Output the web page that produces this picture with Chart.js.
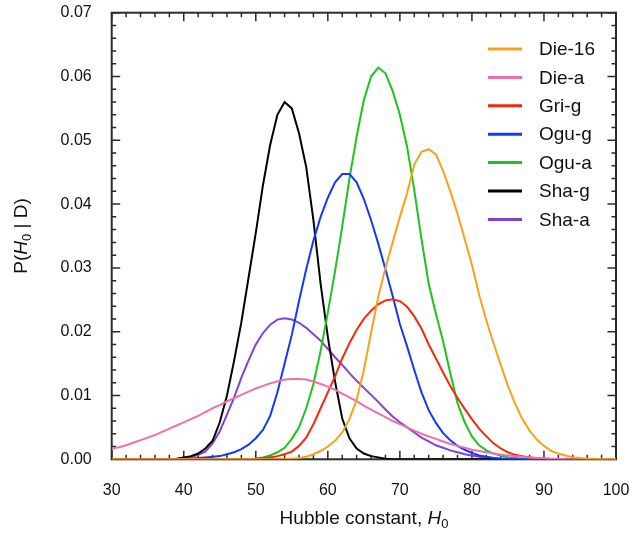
<!DOCTYPE html>
<html>
<head>
<meta charset="utf-8">
<script src="https://cdn.jsdelivr.net/npm/chart.js@4.4.1/dist/chart.umd.min.js"></script>
<style>
  html, body { margin: 0; padding: 0; background: #fff; }
</style>
</head>
<body>
<canvas id="hubble" width="632" height="534"></canvas>
<script>
// valores de H0 (eje x)
var H0 = [30, 31, 32, 33, 34, 35, 36, 37, 38, 39,
          40, 41, 42, 43, 44, 45, 46, 47, 48, 49,
          50, 51, 52, 53, 54, 55, 56, 57, 58, 59,
          60, 61, 62, 63, 64, 65, 66, 67, 68, 69,
          70, 71, 72, 73, 74, 75, 76, 77, 78, 79,
          80, 81, 82, 83, 84, 85, 86, 87, 88, 89,
          90, 91, 92, 93, 94, 95, 96, 97, 98, 99, 100];

// P(H0 | D) para cada serie
var die16 = [0, 0, 0, 0, 0, 0, 0, 0, 0, 0,
             0, 0, 0, 0, 0, 0, 0, 0, 0, 0,
             0, 0, 0, 0, 0, 0.0001, 0.0002, 0.0004, 0.0008, 0.0013,
             0.0020, 0.0029, 0.0042, 0.0063, 0.0093, 0.0140, 0.0198, 0.0255, 0.0300, 0.0340,
             0.0380, 0.0417, 0.0462, 0.0482, 0.0486, 0.0478, 0.0452, 0.0420, 0.0385, 0.0345,
             0.0305, 0.0258, 0.0218, 0.0182, 0.0148, 0.0115, 0.0087, 0.0063, 0.0045, 0.0031,
             0.0021, 0.0013, 0.0009, 0.0006, 0.0003, 0.0002, 0.0001, 0.0001, 0, 0, 0];
var diea = [0.0017, 0.0019, 0.0022, 0.0026, 0.0030, 0.0034, 0.0038, 0.0043, 0.0048, 0.0053,
            0.0058, 0.0063, 0.0068, 0.0074, 0.0080, 0.0085, 0.0091, 0.0096, 0.0101, 0.0106,
            0.0111, 0.0115, 0.0119, 0.0122, 0.0125, 0.0126, 0.0126, 0.0125, 0.0122, 0.0118,
            0.0114, 0.0109, 0.0103, 0.0097, 0.0091, 0.0084, 0.0078, 0.0072, 0.0066, 0.0060,
            0.0055, 0.0050, 0.0045, 0.0040, 0.0036, 0.0032, 0.0028, 0.0024, 0.0021, 0.0018,
            0.0015, 0.0013, 0.0011, 0.0009, 0.0007, 0.0006, 0.0005, 0.0004, 0.0003, 0.0002,
            0.0002, 0.0001, 0.0001, 0, 0, 0, 0, 0, 0, 0, 0];
var grig = [0, 0, 0, 0, 0, 0, 0, 0, 0, 0,
            0, 0, 0, 0, 0, 0, 0, 0, 0, 0,
            0.0001, 0.0002, 0.0003, 0.0005, 0.0008, 0.0012, 0.0021, 0.0034, 0.0055, 0.0080,
            0.0105, 0.0130, 0.0158, 0.0182, 0.0203, 0.0220, 0.0233, 0.0243, 0.0249, 0.0251,
            0.0248, 0.0239, 0.0224, 0.0205, 0.0180, 0.0158, 0.0136, 0.0115, 0.0096, 0.0079,
            0.0063, 0.0048, 0.0036, 0.0025, 0.0017, 0.0011, 0.0007, 0.0005, 0.0003, 0.0002,
            0.0001, 0, 0, 0, 0, 0, 0, 0, 0, 0, 0];
var ogug = [0, 0, 0, 0, 0, 0, 0, 0, 0, 0,
            0.0001, 0.0001, 0.0002, 0.0003, 0.0004, 0.0005, 0.0008, 0.0011, 0.0016, 0.0023,
            0.0033, 0.0046, 0.0068, 0.0105, 0.0150, 0.0195, 0.0248, 0.0298, 0.0343, 0.0380,
            0.0410, 0.0434, 0.0447, 0.0447, 0.0434, 0.0408, 0.0375, 0.0338, 0.0298, 0.0256,
            0.0212, 0.0177, 0.0140, 0.0105, 0.0077, 0.0057, 0.0041, 0.0030, 0.0021, 0.0015,
            0.0010, 0.0006, 0.0004, 0.0002, 0.0001, 0, 0, 0, 0, 0,
            0, 0, 0, 0, 0, 0, 0, 0, 0, 0, 0];
var ogua = [0, 0, 0, 0, 0, 0, 0, 0, 0, 0,
            0, 0, 0, 0, 0, 0, 0, 0, 0, 0,
            0.0001, 0.0003, 0.0006, 0.0011, 0.0018, 0.0032, 0.0050, 0.0080, 0.0118, 0.0170,
            0.0230, 0.0295, 0.0365, 0.0440, 0.0506, 0.0563, 0.0600, 0.0614, 0.0605, 0.0577,
            0.0540, 0.0490, 0.0422, 0.0345, 0.0275, 0.0228, 0.0185, 0.0135, 0.0088, 0.0058,
            0.0036, 0.0022, 0.0014, 0.0009, 0.0006, 0.0003, 0.0002, 0.0001, 0, 0,
            0, 0, 0, 0, 0, 0, 0, 0, 0, 0, 0];
var shag = [0, 0, 0, 0, 0, 0, 0, 0, 0, 0.0001,
            0.0003, 0.0005, 0.0009, 0.0017, 0.0029, 0.0058, 0.0100, 0.0155, 0.0215, 0.0285,
            0.0355, 0.0430, 0.0493, 0.0540, 0.0560, 0.0550, 0.0511, 0.0458, 0.0375, 0.0275,
            0.0192, 0.0122, 0.0064, 0.0033, 0.0017, 0.0009, 0.0005, 0.0003, 0.0001, 0,
            0, 0, 0, 0, 0, 0, 0, 0, 0, 0,
            0, 0, 0, 0, 0, 0, 0, 0, 0, 0,
            0, 0, 0, 0, 0, 0, 0, 0, 0, 0, 0];
var shaa = [0, 0, 0, 0, 0, 0, 0, 0, 0, 0,
            0.0001, 0.0003, 0.0007, 0.0012, 0.0025, 0.0044, 0.0070, 0.0097, 0.0128, 0.0155,
            0.0180, 0.0198, 0.0211, 0.0219, 0.0221, 0.0219, 0.0214, 0.0206, 0.0196, 0.0186,
            0.0173, 0.0160, 0.0148, 0.0135, 0.0123, 0.0112, 0.0101, 0.0090, 0.0078, 0.0067,
            0.0058, 0.0050, 0.0042, 0.0034, 0.0028, 0.0022, 0.0018, 0.0014, 0.0011, 0.0008,
            0.0006, 0.0004, 0.0003, 0.0002, 0.0001, 0.0001, 0, 0, 0, 0,
            0, 0, 0, 0, 0, 0, 0, 0, 0, 0, 0];

var nombres = ["Die-16", "Die-a", "Gri-g", "Ogu-g", "Ogu-a", "Sha-g", "Sha-a"];
var series = [die16, diea, grig, ogug, ogua, shag, shaa];
var colores = ["#f8a21c", "#f06fae", "#f5290c", "#1238ff", "#1cc41c", "#000000", "#8440d2"];

var fuente = "'Liberation Sans', Arial, sans-serif";

function puntos(valores) {
    return H0.map(function (h, i) { return { x: h, y: valores[i] }; });
}

// marco con marcas hacia dentro en los cuatro lados
var marco = {
    id: "marco",
    beforeDatasetsDraw: function (chart) {
        var ctx = chart.ctx, a = chart.chartArea;
        var sx = chart.scales.x, sy = chart.scales.y;
        ctx.save();
        ctx.strokeStyle = "#2b2b2b";
        ctx.lineWidth = 1.5;
        ctx.beginPath();
        for (var v = 30; v <= 100; v += 2) {
            var px = sx.getPixelForValue(v);
            var len = (v % 10 === 0) ? 8.5 : 4.5;
            ctx.moveTo(px, a.bottom); ctx.lineTo(px, a.bottom - len);
            ctx.moveTo(px, a.top); ctx.lineTo(px, a.top + len);
        }
        for (var k = 0; k <= 35; k++) {
            var py = sy.getPixelForValue(k * 0.002);
            var l2 = (k % 5 === 0) ? 8.5 : 4.5;
            ctx.moveTo(a.left, py); ctx.lineTo(a.left + l2, py);
            ctx.moveTo(a.right, py); ctx.lineTo(a.right - l2, py);
        }
        ctx.stroke();
        ctx.lineWidth = 2;
        ctx.strokeRect(a.left, a.top, a.right - a.left, a.bottom - a.top);
        ctx.restore();
    }
};

function textoMixto(ctx, partes, cx, cy) {
    var total = 0;
    partes.forEach(function (p) { ctx.font = p.f; p.w = ctx.measureText(p.t).width; total += p.w; });
    var x = cx - total / 2;
    partes.forEach(function (p) {
        ctx.font = p.f;
        ctx.fillText(p.t, x, cy + (p.dy || 0));
        x += p.w;
    });
}

// leyenda y titulos de ejes
var rotulos = {
    id: "rotulos",
    afterDraw: function (chart) {
        var ctx = chart.ctx;
        ctx.save();
        ctx.fillStyle = "#111";
        ctx.textBaseline = "alphabetic";
        var normal = "19px " + fuente, ital = "italic 19px " + fuente, sub = "13px " + fuente;
        textoMixto(ctx, [
            { t: "Hubble constant, ", f: normal },
            { t: "H", f: ital },
            { t: "0", f: sub, dy: 4 }
        ], 364, 524);
        ctx.translate(27, 236);
        ctx.rotate(-Math.PI / 2);
        textoMixto(ctx, [
            { t: "P(", f: normal },
            { t: "H", f: ital },
            { t: "0", f: sub, dy: 4 },
            { t: " | D)", f: normal }
        ], 0, 0);
        ctx.restore();

        ctx.save();
        ctx.font = "19px " + fuente;
        ctx.textBaseline = "middle";
        chart.data.datasets.forEach(function (ds, i) {
            var y = 49 + i * 28.4;
            ctx.strokeStyle = ds.borderColor;
            ctx.lineWidth = 3;
            ctx.beginPath();
            ctx.moveTo(488, y); ctx.lineTo(522, y);
            ctx.stroke();
            ctx.fillStyle = "#111";
            ctx.fillText(ds.label, 539, y + 1);
        });
        ctx.restore();
    }
};

var grafico = new Chart(document.getElementById("hubble"), {
    type: "line",
    data: {
        datasets: series.map(function (s, i) {
            return {
                label: nombres[i],
                data: puntos(s),
                borderColor: colores[i],
                backgroundColor: colores[i],
                borderWidth: 2,
                pointRadius: 0,
                tension: 0,
                fill: false
            };
        })
    },
    options: {
        responsive: false,
        animation: false,
        devicePixelRatio: 1,
        layout: { padding: { top: 12.7, right: 16, left: 0, bottom: 0 } },
        plugins: {
            legend: { display: false },
            tooltip: { enabled: false }
        },
        scales: {
            x: {
                type: "linear",
                min: 30,
                max: 100,
                grid: { display: false, drawTicks: false },
                border: { display: false },
                ticks: { stepSize: 10, padding: 22, color: "#111", font: { size: 16, family: fuente } },
                afterFit: function (s) {
                    s.height = 74.7;
                    s.paddingLeft = 0; s.paddingRight = 0;
                }
            },
            y: {
                min: 0,
                max: 0.07,
                grid: { display: false, drawTicks: false },
                border: { display: false },
                ticks: {
                    stepSize: 0.01,
                    padding: 20,
                    color: "#111",
                    font: { size: 16, family: fuente },
                    callback: function (v) { return v.toFixed(2); }
                },
                afterFit: function (s) {
                    s.width = 111.7;
                    s.paddingTop = 0; s.paddingBottom = 0;
                }
            }
        }
    },
    plugins: [marco, rotulos]
});
</script>
</body>
</html>
